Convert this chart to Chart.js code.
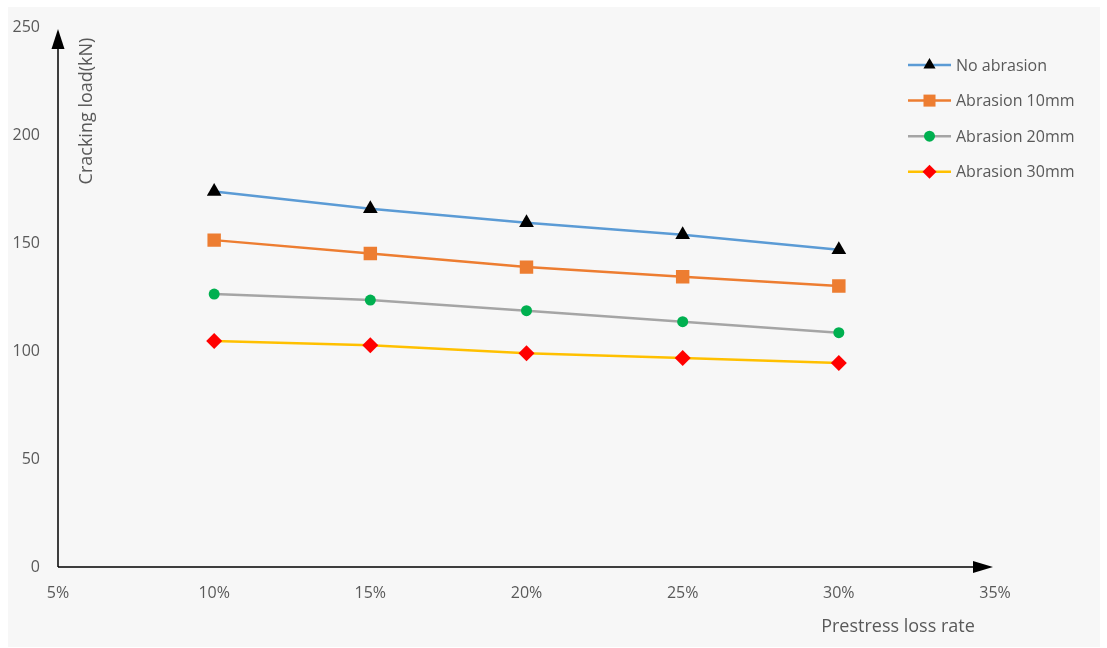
<!DOCTYPE html>
<html>
<head>
<meta charset="utf-8">
<script src="https://cdn.jsdelivr.net/npm/chart.js@4.4.1/dist/chart.umd.min.js"></script>
<style>
  html, body { margin: 0; padding: 0; background: #ffffff; }
  #wrap { width: 1107px; height: 648px; }
</style>
</head>
<body>
<div id="wrap"><canvas id="myChart" width="1107" height="648"></canvas></div>
<script>
// prestress loss rate (%) on x, cracking load (kN) on y
var rates = [10, 15, 20, 25, 30];
var seriesNames = ['No abrasion', 'Abrasion 10mm', 'Abrasion 20mm', 'Abrasion 30mm'];
var noAbrasion = [174, 166, 159.5, 154, 147];
var abrasion10 = [151.5, 145.3, 139, 134.5, 130.2];
var abrasion20 = [126.5, 123.7, 118.8, 113.7, 108.6];
var abrasion30 = [104.8, 102.8, 99.1, 96.9, 94.6];
var xTickValues = [5, 10, 15, 20, 25, 30, 35];
var yTickValues = [0, 50, 100, 150, 200, 250];

var fontFam = '"Open Sans", "Noto Sans", sans-serif';
var textGray = '#595959';

function toPoints(vals) {
    return rates.map(function (r, i) { return { x: r, y: vals[i] }; });
}

var lineColors = ['#5B9BD5', '#ED7D31', '#A5A5A5', '#FFC000'];
var markColors = ['#000000', '#ED7D31', '#00B050', '#FF0000'];
var markStyles = ['triangle', 'rect', 'circle', 'rectRot'];
var markSizes = [8.5, 9.5, 5.5, 8];
var legendSizes = [7, 8.5, 5.5, 7];
var allValues = [noAbrasion, abrasion10, abrasion20, abrasion30];

var datasets = allValues.map(function (vals, i) {
    return {
        label: seriesNames[i],
        data: toPoints(vals),
        borderColor: lineColors[i],
        borderWidth: 2.5,
        pointStyle: markStyles[i],
        pointRadius: markSizes[i],
        pointHoverRadius: markSizes[i],
        pointBackgroundColor: markColors[i],
        pointBorderColor: markColors[i],
        pointBorderWidth: 0,
        tension: 0
    };
});

// background panel, arrow axes, titles and legend
var decor = {
    id: 'decor',
    beforeDraw: function (chart) {
        var c = chart.ctx;
        c.save();
        c.fillStyle = '#ffffff';
        c.fillRect(0, 0, chart.width, chart.height);
        c.fillStyle = '#F7F7F7';
        c.fillRect(8, 7, 1092, 640);
        c.restore();
    },
    beforeDatasetsDraw: function (chart) {
        var c = chart.ctx;
        var a = chart.chartArea;
        var x0 = a.left, y0 = a.bottom;
        c.save();
        c.strokeStyle = '#000000';
        c.fillStyle = '#000000';
        c.lineWidth = 1.5;
        // y axis
        c.beginPath();
        c.moveTo(x0, y0);
        c.lineTo(x0, 45);
        c.stroke();
        c.beginPath();
        c.moveTo(x0, 29);
        c.lineTo(x0 - 6.5, 49);
        c.lineTo(x0 + 6.5, 49);
        c.closePath();
        c.fill();
        // x axis
        c.beginPath();
        c.moveTo(x0, y0);
        c.lineTo(976, y0);
        c.stroke();
        c.beginPath();
        c.moveTo(993, y0);
        c.lineTo(973, y0 - 6);
        c.lineTo(973, y0 + 6);
        c.closePath();
        c.fill();
        c.restore();
    },
    afterDraw: function (chart) {
        var c = chart.ctx;
        c.save();
        c.fillStyle = textGray;
        c.textBaseline = 'middle';
        // y title
        c.save();
        c.translate(87, 111);
        c.rotate(-Math.PI / 2);
        c.textAlign = 'center';
        c.font = '18px ' + fontFam;
        c.fillText('Cracking load(kN)', 0, 0);
        c.restore();
        // x title
        c.textAlign = 'center';
        c.font = '18px ' + fontFam;
        c.fillText('Prestress loss rate', 898, 627);
        // legend
        c.font = '16px ' + fontFam;
        c.textAlign = 'left';
        chart.data.datasets.forEach(function (ds, i) {
            var ly = 65 + i * 35.6;
            c.strokeStyle = ds.borderColor;
            c.lineWidth = 2.5;
            c.beginPath();
            c.moveTo(908, ly);
            c.lineTo(951, ly);
            c.stroke();
            c.fillStyle = ds.pointBackgroundColor;
            Chart.helpers.drawPoint(c, {
                pointStyle: ds.pointStyle,
                radius: legendSizes[i],
                rotation: 0,
                borderWidth: 0
            }, 929.5, ly);
            c.fillStyle = textGray;
            c.fillText(ds.label, 956, ly + 1);
        });
        c.restore();
    }
};

var ctx = document.getElementById('myChart').getContext('2d');

var myChart = new Chart(ctx, {
    type: 'line',
    data: { datasets: datasets },
    options: {
        responsive: false,
        animation: false,
        layout: { padding: { left: 0, top: 27, right: 112, bottom: 0 } },
        plugins: {
            legend: { display: false },
            tooltip: { enabled: false }
        },
        scales: {
            x: {
                type: 'linear',
                min: 5,
                max: 35,
                afterFit: function (s) { s.height = 81; },
                afterBuildTicks: function (s) {
                    s.ticks = xTickValues.map(function (v) { return { value: v }; });
                },
                grid: { display: false, drawTicks: false },
                border: { display: false },
                ticks: {
                    padding: 17,
                    color: textGray,
                    font: { family: fontFam, size: 16 },
                    callback: function (v) { return v + '%'; }
                }
            },
            y: {
                type: 'linear',
                min: 0,
                max: 250,
                afterFit: function (s) { s.width = 58; },
                afterBuildTicks: function (s) {
                    s.ticks = yTickValues.map(function (v) { return { value: v }; });
                },
                grid: { display: false, drawTicks: false },
                border: { display: false },
                ticks: {
                    padding: 18,
                    color: textGray,
                    font: { family: fontFam, size: 16 }
                }
            }
        }
    },
    plugins: [decor]
});
</script>
</body>
</html>
